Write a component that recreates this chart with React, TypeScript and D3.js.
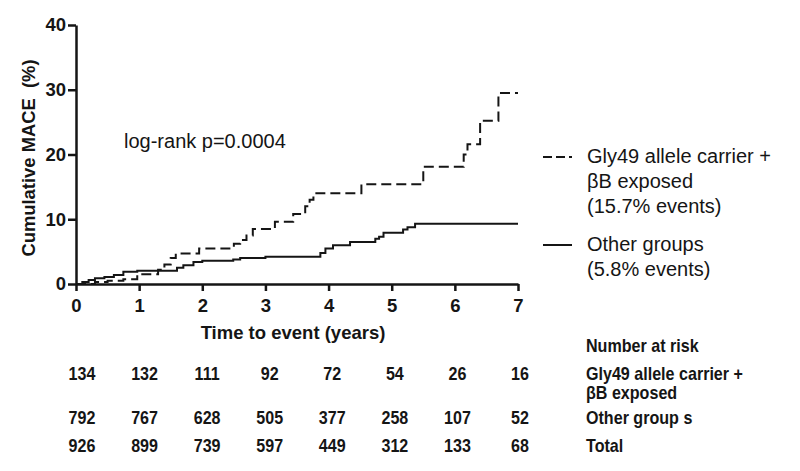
import React, { useRef, useEffect } from 'react';
import * as d3 from 'd3';

// Kaplan-Meier style cumulative event curves (percent)
const glyTime = [0, 0.3, 0.5, 0.75, 0.97, 1.3, 1.4, 1.5, 1.58, 1.95, 2.5, 2.6, 2.7, 2.8, 3.15, 3.44, 3.63, 3.7, 3.76, 4.52, 5.5, 6.14, 6.2, 6.4, 6.69, 7.0];
const glyPct = [0, 0.3, 0.5, 0.75, 1.5, 2.2, 3.0, 4.0, 4.7, 5.5, 6.2, 6.8, 7.5, 8.5, 9.6, 10.8, 12.0, 13.0, 14.0, 15.4, 18.1, 20.0, 21.6, 25.2, 29.5, 29.5];

const otherTime = [0, 0.1, 0.2, 0.3, 0.45, 0.6, 0.75, 0.97, 1.6, 1.7, 1.86, 2.0, 2.49, 2.6, 3.0, 3.87, 3.95, 4.07, 4.34, 4.74, 4.8, 4.87, 5.18, 5.25, 5.37, 7.0];
const otherPct = [0, 0.3, 0.6, 0.9, 1.1, 1.4, 1.9, 2.05, 2.5, 2.9, 3.4, 3.6, 3.8, 4.0, 4.2, 4.8, 5.5, 6.0, 6.5, 7.0, 7.3, 7.9, 8.4, 8.75, 9.3, 9.3];

const xTicks = [0, 1, 2, 3, 4, 5, 6, 7];
const yTicks = [0, 10, 20, 30, 40];

// number at risk table
const riskYears = ['0', '1', '2', '3', '4', '5', '6', '7'];
const riskGly = [134, 132, 111, 92, 72, 54, 26, 16];
const riskOther = [792, 767, 628, 505, 377, 258, 107, 52];
const riskTotal = [926, 899, 739, 597, 449, 312, 133, 68];

const legendLabels = [
  ['Gly49 allele carrier +', '\u03b2B exposed', '(15.7% events)'],
  ['Other groups', '(5.8% events)'],
];
const riskLabels = [['Gly49 allele carrier +', '\u03b2B exposed'], ['Other group s'], ['Total']];

const FONT = '"Liberation Sans", Arial, Helvetica, sans-serif';
const INK = '#151515';

const App: React.FC = () => {
  const svgRef = useRef<SVGSVGElement>(null);

  useEffect(() => {
    if (!svgRef.current) return;
    const svg = d3.select(svgRef.current);
    svg.selectAll('*').remove();

    const x = d3.scaleLinear().domain([0, 7]).range([76, 518]);
    const y = d3.scaleLinear().domain([0, 40]).range([284, 25]);

    // axes
    const xAxis = svg.append('g')
      .attr('transform', `translate(0,${y(0)})`)
      .call(d3.axisBottom(x).tickValues(xTicks).tickFormat(d3.format('d')).tickSize(7).tickSizeOuter(0).tickPadding(8));
    const yAxis = svg.append('g')
      .attr('transform', `translate(${x(0)},0)`)
      .call(d3.axisLeft(y).tickValues(yTicks).tickFormat(d3.format('d')).tickSize(8).tickSizeOuter(0).tickPadding(2));

    [xAxis, yAxis].forEach(g => {
      g.select('.domain').attr('stroke', INK).attr('stroke-width', 2.5);
      g.selectAll('.tick line').attr('stroke', INK).attr('stroke-width', 2.5);
      g.selectAll('.tick text')
        .attr('fill', INK)
        .style('font-family', FONT)
        .style('font-size', '18.5px')
        .style('font-weight', 'bold');
    });

    // curves
    const glyLine = d3.line<number>()
      .x((_, i) => x(glyTime[i]))
      .y(d => y(d))
      .curve(d3.curveStepAfter);
    const otherLine = d3.line<number>()
      .x((_, i) => x(otherTime[i]))
      .y(d => y(d))
      .curve(d3.curveStepAfter);

    svg.append('path')
      .datum(otherPct)
      .attr('fill', 'none')
      .attr('stroke', INK)
      .attr('stroke-width', 2)
      .attr('d', otherLine);

    svg.append('path')
      .datum(glyPct)
      .attr('fill', 'none')
      .attr('stroke', INK)
      .attr('stroke-width', 2)
      .attr('stroke-dasharray', '10,5')
      .attr('d', glyLine);

    // axis titles
    svg.append('text')
      .attr('transform', 'translate(35,158) rotate(-90)')
      .attr('text-anchor', 'middle')
      .style('white-space', 'pre')
      .style('font-family', FONT)
      .style('font-size', '18.4px')
      .style('font-weight', 'bold')
      .attr('fill', INK)
      .text('Cumulative MACE  (%)');

    svg.append('text')
      .attr('x', 293)
      .attr('y', 339)
      .attr('text-anchor', 'middle')
      .style('font-family', FONT)
      .style('font-size', '18.5px')
      .style('font-weight', 'bold')
      .attr('fill', INK)
      .text('Time to event (years)');

    svg.append('text')
      .attr('x', 124)
      .attr('y', 148)
      .style('font-family', FONT)
      .style('font-size', '20px')
      .attr('fill', INK)
      .text('log-rank p=0.0004');

    // legend
    const legendY = [157, 245];
    const legendDash = ['9,4', null];
    legendLabels.forEach((lines, k) => {
      const ln = svg.append('line')
        .attr('x1', 543).attr('x2', 572)
        .attr('y1', legendY[k]).attr('y2', legendY[k])
        .attr('stroke', INK)
        .attr('stroke-width', 2);
      if (legendDash[k]) ln.attr('stroke-dasharray', legendDash[k] as string);
      lines.forEach((t, j) => {
        svg.append('text')
          .attr('x', 587)
          .attr('y', legendY[k] + 6 + j * 25)
          .style('font-family', FONT)
          .style('font-size', '20px')
          .attr('fill', INK)
          .text(t);
      });
    });

    // number at risk table
    const col = d3.scalePoint<string>().domain(riskYears).range([82, 520]);
    const rowY = [380, 424, 452];
    const rows = [riskGly, riskOther, riskTotal];
    const condensed = (sel: d3.Selection<SVGTextElement, unknown, null, undefined>) =>
      sel.style('font-family', FONT)
        .style('font-size', '17.5px')
        .style('font-weight', 'bold')
        .attr('fill', INK);

    svg.append('text')
      .attr('transform', 'translate(586,352) scale(0.92,1)')
      .call(condensed)
      .text('Number at risk');

    rows.forEach((vals, r) => {
      vals.forEach((v, i) => {
        svg.append('text')
          .attr('transform', `translate(${col(riskYears[i])},${rowY[r]}) scale(0.92,1)`)
          .attr('text-anchor', 'middle')
          .call(condensed)
          .text(String(v));
      });
      riskLabels[r].forEach((t, j) => {
        svg.append('text')
          .attr('transform', `translate(586,${rowY[r] + j * 19}) scale(0.92,1)`)
          .style('white-space', 'pre')
          .call(condensed)
          .text(t);
      });
    });
  }, []);

  return (
    <svg
      ref={svgRef}
      width={800}
      height={471}
      style={{ position: 'absolute', left: 0, top: 0, background: '#fff' }}
    />
  );
};

export default App;
